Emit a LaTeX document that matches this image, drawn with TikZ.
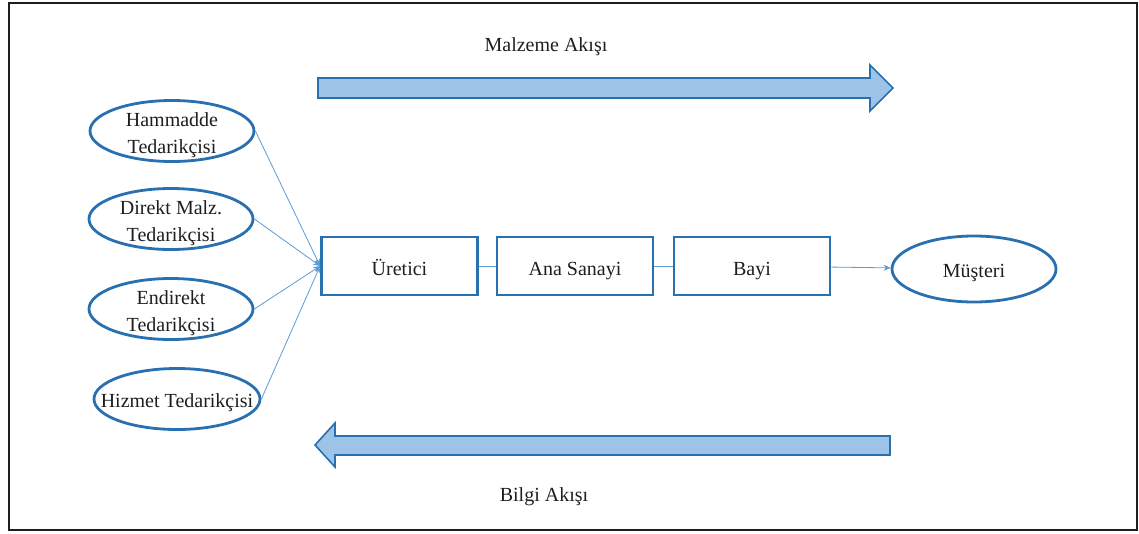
\documentclass[tikz,border=0pt]{standalone}
\usepackage{fontspec}
\setmainfont{Liberation Serif}
\usetikzlibrary{arrows.meta,shapes.geometric}

\definecolor{kenar}{RGB}{40,112,176}
\definecolor{dolgu}{RGB}{157,195,230}
\definecolor{baglanti}{RGB}{91,155,213}
\definecolor{yazi}{RGB}{30,30,30}

\tikzset{
  metin/.style={text=yazi,align=center,font=\fontsize{20}{27}\selectfont},
  tedarik/.style={ellipse,draw=kenar,line width=2.8pt,inner sep=0pt,
    minimum width=164pt,minimum height=61pt,
    label={[metin,yshift=-4pt]center:{#1}}},
  kutu/.style={rectangle,draw=kenar,line width=2.8pt,minimum width=156pt,
    minimum height=58pt,text height=19pt,text depth=1pt,metin},
  akis/.style={draw=kenar,line width=1.6pt,fill=dolgu,line join=miter},
  ok/.style={draw=baglanti,line width=0.8pt,-{Stealth[length=7pt,width=6pt]}},
  cizgi/.style={draw=baglanti,line width=0.8pt}
}

\begin{document}
\begin{tikzpicture}[x=1pt,y=-1pt]
\useasboundingbox (0,0) rectangle (1139,533);
\draw[line width=1.5pt,yazi] (9,3) rectangle (1137,530);

% material and information flows
\draw[akis] (318,78) -- (870,78) -- (870,65) -- (893,88) -- (870,111)
  -- (870,98) -- (318,98) -- cycle;
\node[metin] (malzeme) at (546,47) {Malzeme Akışı};
\draw[akis] (890,436) -- (335,436) -- (335,423) -- (315,445) -- (335,467)
  -- (335,455) -- (890,455) -- cycle;
\node[metin] (bilgi) at (544,497) {Bilgi Akışı};

% suppliers
\node[tedarik={Hammadde\\Tedarikçisi}] (ham) at (172,131) {};
\node[tedarik={Direkt Malz.\\Tedarikçisi}] (direkt) at (171,219) {};
\node[tedarik={Endirekt\\Tedarikçisi}] (endirekt) at (171,309) {};
\node[tedarik={Hizmet Tedarikçisi},minimum width=166pt] (hizmet) at (177,399) {};

% chain
\node[kutu] (uretici) at (399.5,266) {Üretici};
\node[kutu] (sanayi) at (575,266) {Ana Sanayi};
\node[kutu] (bayi) at (752,266) {Bayi};
\node[tedarik={Müşteri},minimum height=66pt] (musteri) at (974,269) {};

\draw[ok] (ham.east) -- (uretici.west);
\draw[ok] (direkt.east) -- (uretici.west);
\draw[ok] (endirekt.east) -- (uretici.west);
\draw[ok] (hizmet.east) -- (uretici.west);
\draw[cizgi] (uretici) -- (sanayi);
\draw[cizgi] (sanayi) -- (bayi);
\draw[ok] (bayi) -- (musteri);
\end{tikzpicture}
\end{document}
